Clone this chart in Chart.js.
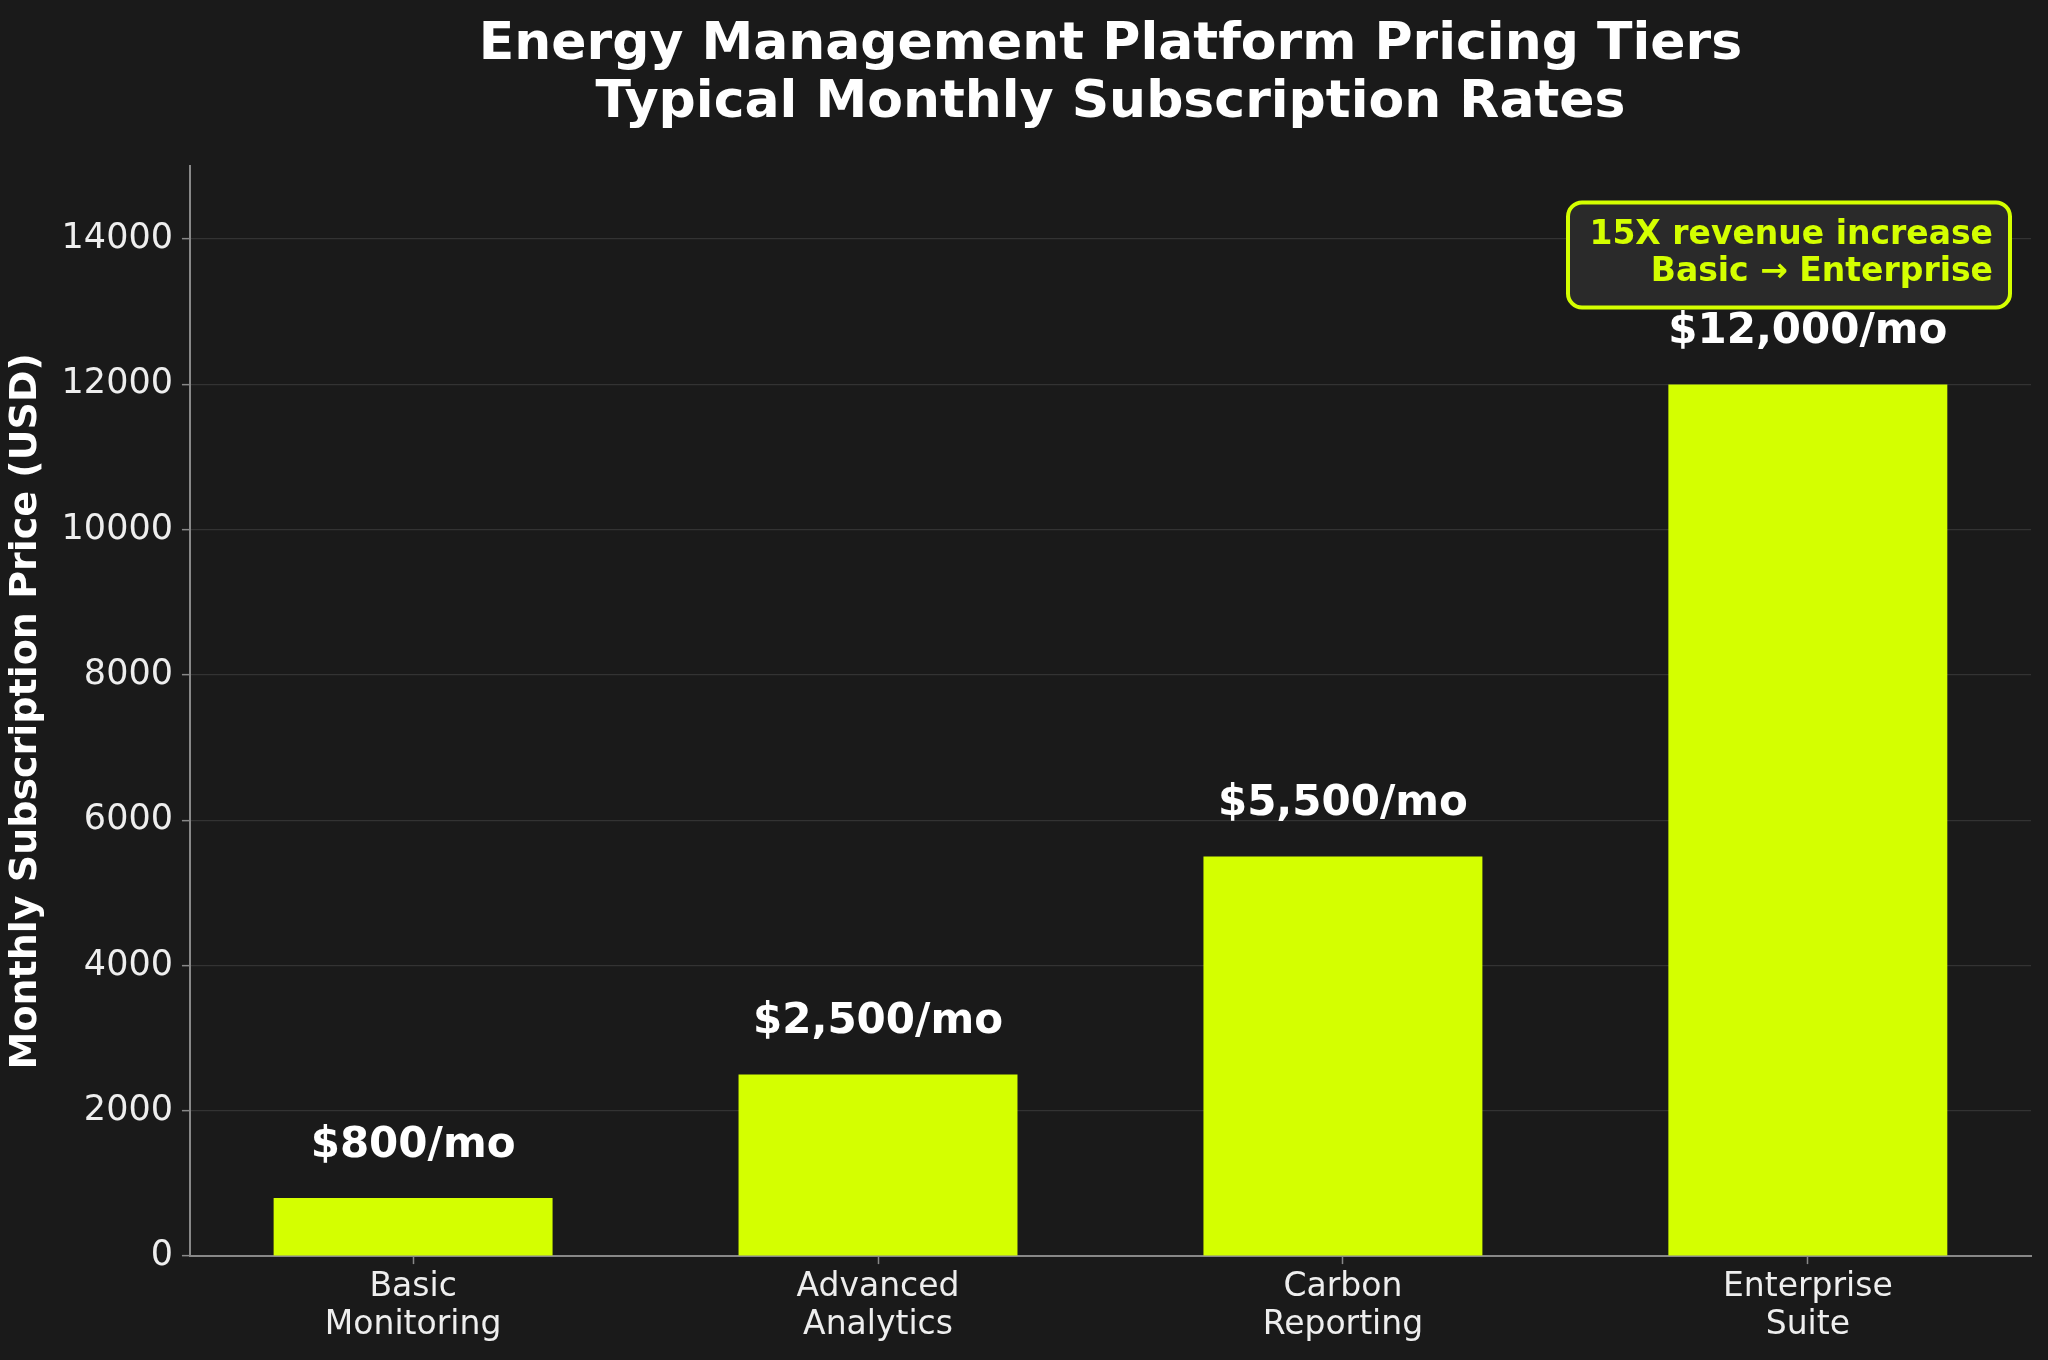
<!DOCTYPE html>
<html>
<head>
<meta charset="utf-8">
<script src="https://cdn.jsdelivr.net/npm/chart.js@4.4.1/dist/chart.umd.min.js"></script>
<style>
  html, body { margin: 0; padding: 0; background: #1a1a1a; }
  canvas { display: block; }
</style>
</head>
<body>
<canvas id="myChart" width="2048" height="1360"></canvas>
<script>
// datos
const tiers = [["Basic", "Monitoring"], ["Advanced", "Analytics"], ["Carbon", "Reporting"], ["Enterprise", "Suite"]];
const precios = [800, 2500, 5500, 12000];
const etiquetas = ["$800/mo", "$2,500/mo", "$5,500/mo", "$12,000/mo"];
const yTicks = [0, 2000, 4000, 6000, 8000, 10000, 12000, 14000];
const titulo = ["Energy Management Platform Pricing Tiers", "Typical Monthly Subscription Rates"];
const nota = ["15X revenue increase", "Basic \u2192 Enterprise"];

const amarillo = "#d4ff00";
const fuente = "'DejaVu Sans', sans-serif";

// etiquetas de valor encima de cada barra
const valorPlugin = {
  id: "valorPlugin",
  afterDatasetsDraw(chart) {
    const ctx = chart.ctx;
    const meta = chart.getDatasetMeta(0);
    ctx.save();
    ctx.font = "bold 42px " + fuente;
    ctx.fillStyle = "#ffffff";
    ctx.textAlign = "center";
    ctx.textBaseline = "middle";
    meta.data.forEach((bar, i) => {
      ctx.fillText(etiquetas[i], bar.x, bar.y - 52);
    });
    ctx.restore();
  }
};

// caja de nota arriba a la derecha
const notaPlugin = {
  id: "notaPlugin",
  afterDraw(chart) {
    const ctx = chart.ctx;
    const area = chart.chartArea;
    const right = area.right - 21;
    const top = area.top + 36;
    const w = 442, h = 105;
    const left = right - w;
    ctx.save();
    ctx.beginPath();
    ctx.roundRect(left, top, w, h, 14);
    ctx.fillStyle = "#2a2a2a";
    ctx.fill();
    ctx.lineWidth = 4;
    ctx.strokeStyle = amarillo;
    ctx.stroke();
    ctx.font = "bold 33px " + fuente;
    ctx.fillStyle = amarillo;
    ctx.textAlign = "right";
    ctx.textBaseline = "middle";
    ctx.fillText(nota[0], right - 17, top + 33);
    ctx.fillText(nota[1], right - 17, top + 70);
    ctx.restore();
  }
};

const config = {
  type: "bar",
  data: {
    datasets: [{
      data: precios.map((p, i) => ({ x: i, y: p })),
      backgroundColor: amarillo,
      borderWidth: 0,
      barPercentage: 0.6,
      categoryPercentage: 1.0
    }]
  },
  options: {
    responsive: false,
    devicePixelRatio: 1,
    animation: false,
    layout: { padding: { left: 3, right: 17, top: 0, bottom: 12 } },
    plugins: {
      legend: { display: false },
      tooltip: { enabled: false },
      title: {
        display: true,
        text: titulo,
        fullSize: false,
        color: "#ffffff",
        font: { family: fuente, size: 52, weight: "bold", lineHeight: 1.12 },
        padding: { top: 16, bottom: 34 }
      }
    },
    scales: {
      x: {
        type: "linear",
        min: -0.48,
        max: 3.48,
        offset: false,
        afterBuildTicks: (scale) => {
          scale.ticks = tiers.map((t, i) => ({ value: i }));
        },
        grid: { display: true, drawOnChartArea: false, offset: false, tickLength: 8, tickColor: "#888888", tickWidth: 1.5 },
        border: { display: true, color: "#888888", width: 2 },
        ticks: {
          color: "#eeeeee",
          padding: 4,
          autoSkip: false,
          maxRotation: 0,
          font: { family: fuente, size: 33, lineHeight: 1.15 },
          callback: (value) => tiers[Math.round(value)]
        }
      },
      y: {
        min: 0,
        max: 15000,
        afterBuildTicks: (scale) => {
          scale.ticks = yTicks.map((v) => ({ value: v }));
        },
        grid: { color: "#333333", lineWidth: 1.3, tickLength: 8, tickColor: "#888888", tickWidth: 1.5 },
        border: { display: true, color: "#888888", width: 2 },
        ticks: {
          color: "#eeeeee",
          padding: 9,
          font: { family: fuente, size: 35 },
          callback: (value) => String(value)
        },
        title: {
          display: true,
          text: "Monthly Subscription Price (USD)",
          color: "#ffffff",
          font: { family: fuente, size: 38, weight: "bold" },
          padding: { top: 0, bottom: 4 }
        }
      }
    }
  },
  plugins: [valorPlugin, notaPlugin]
};

const myChart = document.getElementById("myChart");
new Chart(myChart, config);
</script>
</body>
</html>
